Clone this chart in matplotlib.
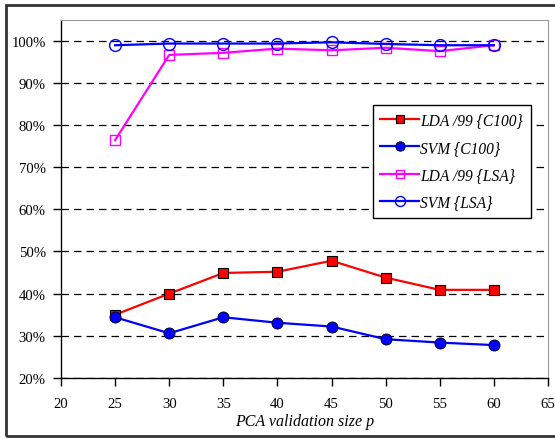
import numpy as np
import matplotlib
matplotlib.use('Agg')
import matplotlib.pyplot as plt
from matplotlib.patches import Rectangle

plt.rcParams['font.family'] = ['Liberation Serif', 'DejaVu Serif']

# Values (percent)
p_sizes = [25, 30, 35, 40, 45, 50, 55, 60]
lda_c100 = [35.0, 40.0, 44.9, 45.2, 47.8, 43.8, 40.9, 40.9]
svm_c100 = [34.4, 30.6, 34.4, 33.1, 32.2, 29.2, 28.4, 27.8]
lda_lsa = [76.4, 96.6, 97.1, 98.1, 97.7, 98.3, 97.5, 98.9]
svm_lsa = [98.9, 99.3, 99.3, 99.3, 99.6, 99.2, 98.9, 98.9]

series_labels = ['LDA /99 {C100}', 'SVM {C100}', 'LDA /99 {LSA}', 'SVM {LSA}']
x_ticks = [20, 25, 30, 35, 40, 45, 50, 55, 60, 65]
y_ticks = [20, 30, 40, 50, 60, 70, 80, 90, 100]

fig = plt.figure(figsize=(5.55, 4.39), dpi=100)
ax = fig.add_axes([61 / 555, 60 / 439, 487 / 555, 358.5 / 439])

# outer frame round the whole figure
fig.patches.append(Rectangle((6 / 555, 2 / 439), 1.0, 431 / 439, transform=fig.transFigure,
                             fill=False, edgecolor='#333333', linewidth=2.0))

ax.plot(p_sizes, lda_c100, color='red', lw=1.6, marker='s', ms=7,
        mfc='red', mec='black', mew=0.8, label=series_labels[0])
ax.plot(p_sizes, svm_c100, color='blue', lw=1.6, marker='o', ms=8,
        mfc='blue', mec='black', mew=0.6, label=series_labels[1])
ax.plot(p_sizes, lda_lsa, color='magenta', lw=1.6, marker='s', ms=7.5,
        mfc='none', mec='magenta', mew=1.0, label=series_labels[2])
ax.plot(p_sizes, svm_lsa, color='blue', lw=1.6, marker='o', ms=8.5,
        mfc='none', mec='blue', mew=1.0, label=series_labels[3])

ax.set_xlim(20, 65)
ax.set_ylim(20, 105)
ax.set_xticks(x_ticks)
ax.set_yticks(y_ticks)
ax.set_yticklabels([f'{v}%' for v in y_ticks])
ax.tick_params(direction='out', length=6, width=1, labelsize=10.6, colors='black')
ax.tick_params(axis='x', pad=8)
ax.tick_params(axis='y', pad=5)

ax.yaxis.grid(True, color='black', lw=0.9, linestyle=(0, (6, 4)))
ax.set_axisbelow(True)

for side in ['top', 'right']:
    ax.spines[side].set_color('#999999')
for side in ['left', 'bottom']:
    ax.spines[side].set_color('black')
    ax.spines[side].set_linewidth(1.0)

ax.set_xlabel('PCA validation size p', style='italic', fontsize=11.5, labelpad=2)

leg = ax.legend(loc='upper right', bbox_to_anchor=(0.965, 0.762), fancybox=False,
                frameon=True, edgecolor='black', framealpha=1, handlelength=2.45,
                labelspacing=0.72, handletextpad=0.12, borderpad=0.5, borderaxespad=0,
                markerscale=0.85, prop={'style': 'italic', 'size': 11.2})
leg.get_frame().set_linewidth(1.0)

fig.savefig('out.png', dpi=100)
